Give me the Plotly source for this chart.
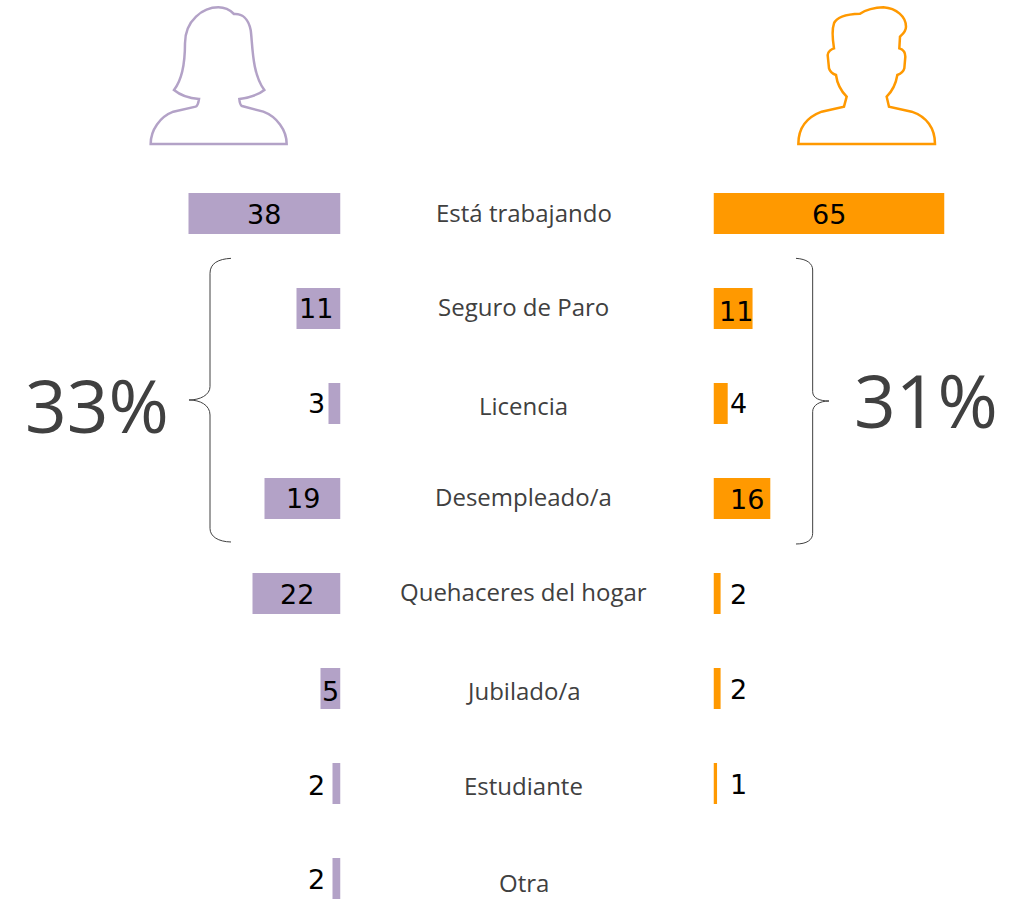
import re
import plotly.graph_objects as go

# ---- data ----
categories = ["Está trabajando", "Seguro de Paro", "Licencia", "Desempleado/a",
              "Quehaceres del hogar", "Jubilado/a", "Estudiante", "Otra"]
mujeres = [38, 11, 3, 19, 22, 5, 2, 2]
hombres = [65, 11, 4, 16, 2, 2, 1, None]
total_mujeres = "33%"
total_hombres = "31%"

# ---- layout (pixels) ----
W, H = 1022, 900
PURPLE, ORANGE, GREY = "#B3A2C7", "#FF9900", "#404040"
ROW0, ROW_STEP, BAR_H = 213.5, 95, 41
L_ZERO, L_SCALE = 340.5, 4.0
R_ZERO, R_SCALE = 713.5, 3.55
FONT = "Open Sans"
NUM_FONT = "DejaVu Sans"

label_dy = [-1, -2, 2, -2, -2, 2, 2, 4]
left_dx = [75.5, 19.5, -12.5, 38.5, 44.5, 9.5, -16.5, -16.5]
left_dy = [1, 0, 0, 0, 1, 3, 2, 1]
right_dx = [-115, -16.6, 10.3, -23, 17.4, 17.4, 21, 0]
right_dy = [1, 3, 0, 1, 1, 1, 1, 0]

y = list(range(len(categories)))
fig = go.Figure()
fig.add_bar(y=y, x=mujeres, orientation="h", marker=dict(color=PURPLE, line_width=0),
            xaxis="x", yaxis="y", showlegend=False, hoverinfo="skip", width=BAR_H / ROW_STEP)
fig.add_bar(y=y, x=hombres, orientation="h", marker=dict(color=ORANGE, line_width=0),
            xaxis="x2", yaxis="y", showlegend=False, hoverinfo="skip", width=BAR_H / ROW_STEP)


def px(x):
    return x / W


def py(v):
    return 1 - v / H


def path(d, ox, oy, k=1 / 3):
    """Transform an SVG path drawn on zoomed pixels to paper coordinates."""
    i = 0

    def sub(m):
        nonlocal i
        v = float(m.group())
        i += 1
        return f"{px(ox + v * k):.5f}" if i % 2 else f"{py(oy + v * k):.5f}"
    return re.sub(r"\d+(?:\.\d+)?", sub, d)


FEMALE = ("M62 432 C62 390 90 350 130 335 L197 320 C203 318 205 310 207 297 C180 295 150 285 132 270 "
          "C160 235 165 170 165 130 C165 60 220 22 265 22 C285 22 300 30 312 42 C335 40 355 55 362 90 "
          "C368 130 365 220 403 270 C385 285 355 293 328 297 C329 310 331 316 336 318 L400 335 "
          "C440 350 470 390 470 432 Z")
MALE = ("M55 432 C55 380 85 350 125 335 L192 320 L200 290 C185 275 172 255 168 225 C160 222 150 215 147 205 "
        "L143 165 C143 155 155 147 162 145 C158 120 155 90 162 70 C170 50 205 42 240 41 C255 30 285 22 310 22 "
        "C350 25 378 50 378 80 C378 95 365 105 360 110 L358 145 C368 148 376 155 376 170 L373 205 "
        "C370 218 360 222 352 225 C348 250 335 275 320 290 L327 320 L395 335 C440 350 465 385 465 432 Z")
BRACE_L = ("M153 25 C115 27 90 40 90 70 L90 410 C90 435 60 450 27 450 C60 450 90 465 90 495 L90 835 "
           "C90 860 115 875 153 876")
BRACE_R = ("M288 25 C320 27 338 40 338 60 L338 425 C338 445 360 453 387 453 C360 453 338 465 338 485 "
           "L338 850 C338 870 320 882 288 882")

shapes = [
    dict(type="path", xref="paper", yref="paper", path=path(FEMALE, 130, 0), line=dict(color=PURPLE, width=2.5)),
    dict(type="path", xref="paper", yref="paper", path=path(MALE, 780, 0), line=dict(color=ORANGE, width=2.5)),
    dict(type="path", xref="paper", yref="paper", path=path(BRACE_L, 180, 250), line=dict(color=GREY, width=1)),
    dict(type="path", xref="paper", yref="paper", path=path(BRACE_R, 700, 250), line=dict(color=GREY, width=1)),
]

annotations = []
for i, c in enumerate(categories):
    annotations.append(dict(x=523.5 / W, xref="paper", y=i, yref="y", yshift=-label_dy[i], text=c,
                            xanchor="center", showarrow=False, font=dict(family=FONT, size=24, color=GREY)))
    annotations.append(dict(x=mujeres[i], xref="x", y=i, yref="y", xanchor="center",
                            xshift=left_dx[i], yshift=-left_dy[i], text=str(mujeres[i]), showarrow=False,
                            font=dict(family=NUM_FONT, size=27, color="#000000")))
    if hombres[i] is not None:
        annotations.append(dict(x=hombres[i], xref="x2", y=i, yref="y", xanchor="center",
                                xshift=right_dx[i], yshift=-right_dy[i], text=str(hombres[i]), showarrow=False,
                                font=dict(family=NUM_FONT, size=27, color="#000000")))
for txt, cx, cy in [(total_mujeres, 97, 405), (total_hombres, 926, 399)]:
    annotations.append(dict(x=px(cx), y=py(cy), xref="paper", yref="paper", text=txt, showarrow=False,
                            xanchor="center", yanchor="middle",
                            font=dict(family="Open Sans", size=73, color=GREY)))

fig.update_layout(
    width=W, height=H, margin=dict(l=0, r=0, t=0, b=0), paper_bgcolor="white", plot_bgcolor="white",
    barmode="overlay", shapes=shapes, annotations=annotations,
    xaxis=dict(domain=[0, px(L_ZERO)], range=[L_ZERO / L_SCALE, 0], visible=False),
    xaxis2=dict(domain=[px(R_ZERO), 1], range=[0, (W - R_ZERO) / R_SCALE], visible=False, anchor="y"),
    yaxis=dict(range=[(H - ROW0) / ROW_STEP, -ROW0 / ROW_STEP], visible=False),
)

fig.write_html("out.html", config={"displayModeBar": False},
               post_script="document.body.style.margin='0';document.documentElement.style.overflow='hidden';")
